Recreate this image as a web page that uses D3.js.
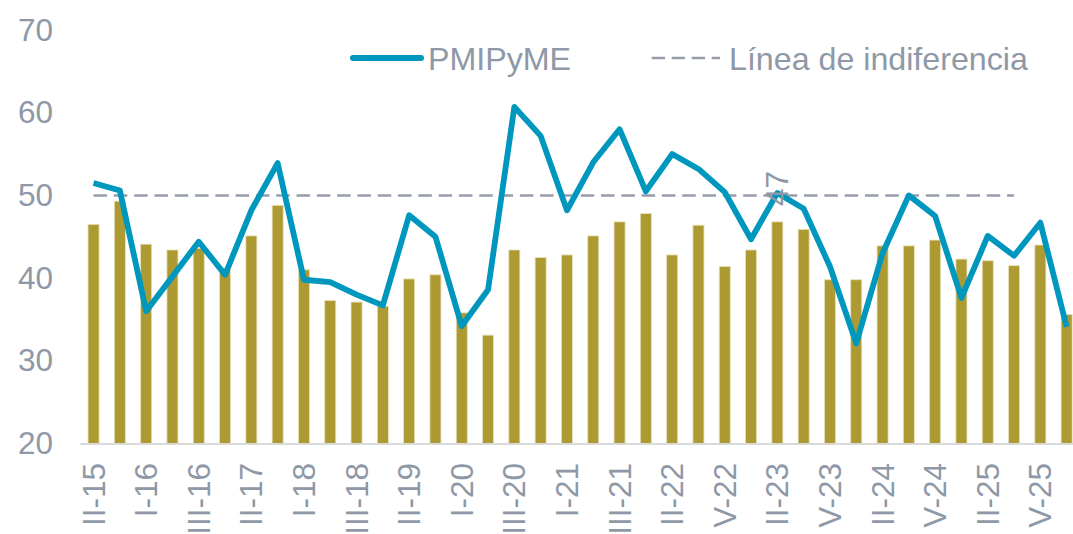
<!DOCTYPE html>
<html>
<head>
<meta charset="utf-8">
<script src="https://cdn.jsdelivr.net/npm/d3@7"></script>
<style>
  html, body { margin: 0; padding: 0; background: #fff; overflow: hidden; }
  svg { display: block; font-family: "Liberation Sans", Arial, sans-serif; }
</style>
</head>
<body>
<svg id="chart" width="1073" height="534"></svg>
<script>
// ---- data ----
const tickLabels = ["II-15","I-16","III-16","II-17","I-18","III-18","II-19","I-20","III-20","I-21",
                    "III-21","II-22","V-22","II-23","V-23","II-24","V-24","II-25","V-25"];
const barValues = [46.5, 49.3, 44.1, 43.4, 43.6, 41.2, 45.1, 48.8, 41.0, 37.3,
                   37.1, 36.6, 39.9, 40.4, 35.8, 33.1, 43.4, 42.5, 42.8, 45.1,
                   46.8, 47.8, 42.8, 46.4, 41.4, 43.4, 46.8, 45.9, 39.8, 39.8,
                   43.9, 43.9, 44.6, 42.3, 42.1, 41.5, 44.0, 35.6];
const pmiPyme = [51.5, 50.6, 36.0, 40.2, 44.4, 40.4, 48.2, 53.9, 39.8, 39.5,
                 38.0, 36.7, 47.6, 45.0, 34.2, 38.6, 60.7, 57.2, 48.2, 54.0,
                 58.0, 50.5, 55.0, 53.2, 50.4, 44.7, 50.3, 48.4, 41.4, 32.1,
                 43.0, 50.0, 47.5, 37.6, 45.1, 42.7, 46.7, 34.1];
const indiferencia = 50;
const indiferenciaEnd = 35; // last category index covered by the dashed line
const labelIndex = 26;      // bar carrying the visible data label
const yTicks = [20, 30, 40, 50, 60, 70];
const seriesNames = ["PMIPyME", "Línea de indiferencia"];

// ---- layout ----
const svg = d3.select("#chart");
const textColor = "#8E98A6";
const fontSize = 31.5;
const legendFont = 32.2;
const n = barValues.length;
const step = 26.3;
const x0 = 80.4;

const x = d3.scaleBand()
  .domain(d3.range(n))
  .range([x0, x0 + n * step])
  .paddingInner(0.58)
  .paddingOuter(0.29);
const cx = i => x(i) + x.bandwidth() / 2;

const y = d3.scaleLinear().domain([20, 70]).range([443.5, 30]);

// bars
svg.append("g").selectAll("rect")
  .data(barValues)
  .join("rect")
  .attr("x", (d, i) => x(i))
  .attr("y", d => y(d))
  .attr("width", x.bandwidth())
  .attr("height", d => y(20) - y(d))
  .attr("fill", "#AD9A32")
  .attr("stroke", "#E9E1BC")
  .attr("stroke-width", 0.8);

// x axis line
svg.append("line")
  .attr("x1", x0).attr("x2", 1073)
  .attr("y1", y(20) + 0.5).attr("y2", y(20) + 0.5)
  .attr("stroke", "#D9D9D9").attr("stroke-width", 2);

// indifference line
svg.append("line")
  .attr("x1", cx(0)).attr("x2", cx(indiferenciaEnd))
  .attr("y1", y(indiferencia)).attr("y2", y(indiferencia))
  .attr("stroke", "#979DAA").attr("stroke-width", 2.5)
  .attr("stroke-dasharray", "13.5,6.8");

// PMI line
const line = d3.line().x((d, i) => cx(i)).y(d => y(d));
svg.append("path")
  .datum(pmiPyme)
  .attr("d", line)
  .attr("fill", "none")
  .attr("stroke", "#0097BE")
  .attr("stroke-width", 5.8)
  .attr("stroke-linejoin", "round")
  .attr("stroke-linecap", "butt");

// data label
svg.append("text")
  .attr("transform", `translate(${cx(labelIndex)},${188.5}) rotate(-90)`)
  .attr("text-anchor", "middle")
  .attr("dy", "0.35em")
  .attr("fill", textColor)
  .attr("font-size", fontSize)
  .text(d3.format(".0f")(barValues[labelIndex]));

// y axis labels
const yAxis = d3.axisLeft(y).tickValues(yTicks).tickSize(0).tickPadding(0);
const gy = svg.append("g").attr("transform", "translate(53,0)").call(yAxis);
gy.select(".domain").remove();
gy.selectAll("text")
  .attr("fill", textColor)
  .attr("font-size", fontSize)
  .attr("font-family", "Liberation Sans, Arial, sans-serif");

// x axis labels
const xTickIdx = tickLabels.map((d, k) => k * 2);
const xAxis = d3.axisBottom(x).tickValues(xTickIdx)
  .tickFormat(i => tickLabels[i / 2]).tickSize(0).tickPadding(0);
const gx = svg.append("g").attr("transform", `translate(0,${y(20)})`).call(xAxis);
gx.select(".domain").remove();
gx.selectAll("text")
  .attr("fill", textColor)
  .attr("font-size", fontSize)
  .attr("font-family", "Liberation Sans, Arial, sans-serif")
  .attr("text-anchor", "end")
  .attr("transform", "translate(0,19.5) rotate(-90)")
  .attr("x", 0).attr("y", 0)
  .attr("dx", 0).attr("dy", "0.35em");

// legend
const lg = svg.append("g");
lg.append("line")
  .attr("x1", 353).attr("x2", 421).attr("y1", 58).attr("y2", 58)
  .attr("stroke", "#0097BE").attr("stroke-width", 6).attr("stroke-linecap", "round");
lg.append("text")
  .attr("x", 428).attr("y", 70)
  .attr("fill", textColor).attr("font-size", legendFont)
  .text(seriesNames[0]);
lg.append("line")
  .attr("x1", 651.7).attr("x2", 720).attr("y1", 58).attr("y2", 58)
  .attr("stroke", "#979DAA").attr("stroke-width", 2.5)
  .attr("stroke-dasharray", "13.3,6.7");
lg.append("text")
  .attr("x", 729).attr("y", 70)
  .attr("fill", textColor).attr("font-size", legendFont)
  .text(seriesNames[1]);
</script>
</body>
</html>
